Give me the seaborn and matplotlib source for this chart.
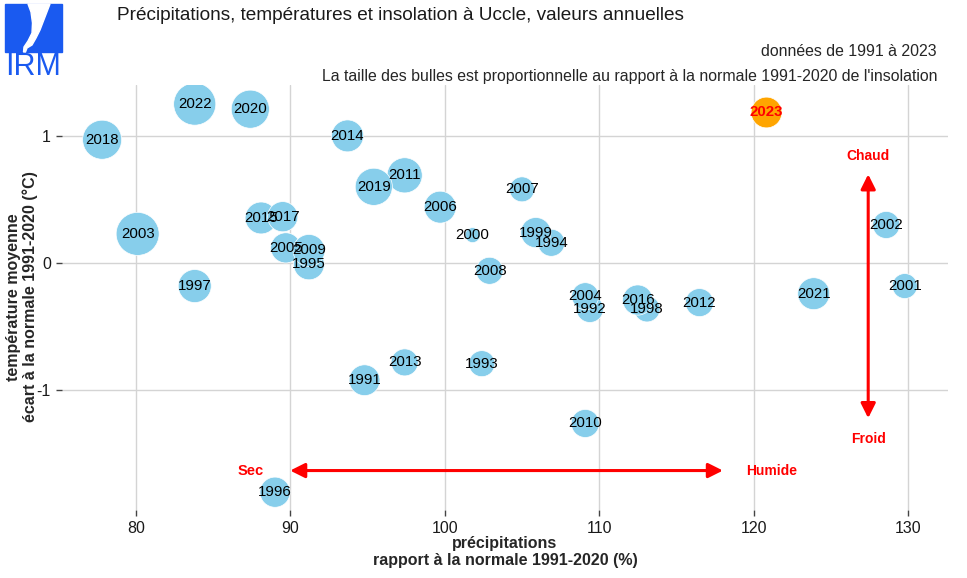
import numpy as np
import pandas as pd
import matplotlib
matplotlib.use('Agg')
import matplotlib.pyplot as plt
import seaborn as sns
from matplotlib.patches import Rectangle, Polygon

# Annual values for Uccle
years = [1991, 1992, 1993, 1994, 1995, 1996, 1997, 1998, 1999, 2000,
         2001, 2002, 2003, 2004, 2005, 2006, 2007, 2008, 2009, 2010,
         2011, 2012, 2013, 2014, 2015, 2016, 2017, 2018, 2019, 2020,
         2021, 2022, 2023]
precip = [94.8, 109.4, 102.4, 106.9, 91.2, 89.0, 83.8, 113.1, 105.9, 101.8,
          129.8, 128.6, 80.1, 109.1, 89.7, 99.7, 105.0, 102.9, 91.2, 109.1,
          97.4, 116.5, 97.4, 93.7, 88.1, 112.5, 89.5, 77.8, 95.4, 87.4,
          123.9, 83.8, 120.8]
temp_anom = [-0.92, -0.36, -0.79, 0.16, -0.01, -1.80, -0.18, -0.36, 0.24, 0.22,
             -0.18, 0.30, 0.23, -0.26, 0.12, 0.44, 0.58, -0.06, 0.10, -1.26,
             0.69, -0.31, -0.78, 1.00, 0.355, -0.29, 0.365, 0.97, 0.60, 1.21,
             -0.24, 1.25, 1.19]
insol = [100, 94, 92.5, 94, 100, 99, 104, 92.5, 99, 80,
         91, 94, 125, 94, 99, 102, 91, 94, 102, 95.5,
         108, 95.5, 94, 102, 102, 99, 99, 116, 112, 114,
         102, 123, 100]

x_ticks = [80, 90, 100, 110, 120, 130]
y_ticks = [-1, 0, 1]

df = pd.DataFrame({'annee': years, 'precip': precip, 'temp': temp_anom, 'insol': insol})
past = df[df['annee'] < 2023]
last = df[df['annee'] == 2023]

sns.set_theme(style='whitegrid')
plt.rcParams['font.family'] = ['Liberation Sans', 'DejaVu Sans']

fig = plt.figure(figsize=(9.67, 5.78), dpi=100)
ax = fig.add_axes([62 / 967, 1 - 510 / 578, (948 - 62) / 967, (510 - 85) / 578])

size_range = (117, 958)
size_norm = (df['insol'].min(), df['insol'].max())
sns.scatterplot(data=past, x='precip', y='temp', size='insol', sizes=size_range,
                size_norm=size_norm, color='#87CEEB', edgecolor='white',
                linewidth=0.5, alpha=1, legend=False, ax=ax, zorder=3)
sns.scatterplot(data=last, x='precip', y='temp', size='insol', sizes=size_range,
                size_norm=size_norm, color='#FFA500', edgecolor='white',
                linewidth=0.5, alpha=1, legend=False, ax=ax, zorder=3)

for _, r in past.iterrows():
    ax.text(r['precip'], r['temp'], str(int(r['annee'])), ha='center', va='center',
            fontsize=10.8, color='black', zorder=5)
for _, r in last.iterrows():
    ax.text(r['precip'], r['temp'], str(int(r['annee'])), ha='center', va='center',
            fontsize=10.8, color='red', fontweight='bold', zorder=5)

# direction arrows
ax.annotate('', xy=(89.8, -1.63), xytext=(118.2, -1.63),
            arrowprops=dict(arrowstyle='<|-|>', color='red', lw=2.2, mutation_scale=22), zorder=4)
ax.annotate('', xy=(127.43, 0.72), xytext=(127.43, -1.24),
            arrowprops=dict(arrowstyle='<|-|>', color='red', lw=2.2, mutation_scale=22), zorder=4)
ax.text(87.4, -1.63, 'Sec', color='red', fontweight='bold', fontsize=10.5, ha='center', va='center')
ax.text(121.2, -1.63, 'Humide', color='red', fontweight='bold', fontsize=10, ha='center', va='center')
ax.text(127.43, 0.845, 'Chaud', color='red', fontweight='bold', fontsize=10, ha='center', va='center')
ax.text(127.43, -1.385, 'Froid', color='red', fontweight='bold', fontsize=10, ha='center', va='center')

ax.set_xlim(75.2, 132.6)
ax.set_ylim(-1.94, 1.40)
ax.set_xticks(x_ticks)
ax.set_yticks(y_ticks)
ax.set_xticklabels([str(v) for v in x_ticks])
ax.set_yticklabels([str(v) for v in y_ticks])
ax.set_xlabel('')
ax.set_ylabel('')
ax.grid(True, color='#d4d4d4', linewidth=1)
for s in ax.spines.values():
    s.set_visible(False)
ax.tick_params(axis='both', which='both', length=4, width=1, color='#444444',
               labelsize=11.5, labelcolor='#1a1a1a', pad=4)
ax.tick_params(axis='x', bottom=True)
ax.tick_params(axis='y', left=True)
ax.set_facecolor('white')

# titles and axis labels
fig.text(117 / 967, 1 - 15 / 578, 'Précipitations, températures et insolation à Uccle, valeurs annuelles',
         fontsize=13.7, ha='left', va='center', color='#1a1a1a')
fig.text(937 / 967, 1 - 52 / 578, 'données de 1991 à 2023', fontsize=11.4, ha='right', va='center')
fig.text(937 / 967, 1 - 76 / 578,
         "La taille des bulles est proportionnelle au rapport à la normale 1991-2020 de l'insolation",
         fontsize=11.4, ha='right', va='center')
fig.text(505 / 967, 1 - 552 / 578, 'précipitations\nrapport à la normale 1991-2020 (%)',
         fontsize=11.5, fontweight='bold', ha='center', va='center', multialignment='center',
         linespacing=1.2)
fig.text(22 / 967, 1 - 297 / 578, 'température moyenne\nécart à la normale 1991-2020 (°C)',
         fontsize=11.5, fontweight='bold', ha='center', va='center', rotation=90,
         multialignment='center', linespacing=1.15)

# IRM logo
blue = '#1a5af0'
lax = fig.add_axes([0, 1 - 80 / 578, 70 / 967, 80 / 578])
lax.set_xlim(0, 70)
lax.set_ylim(80, 0)
lax.axis('off')
lax.add_patch(Rectangle((5, 4), 57, 48, color=blue))
lax.add_patch(Polygon([(28, 4), (31, 12), (32.5, 23), (32, 33), (28, 41), (24, 47), (23.5, 52),
                       (25.5, 52), (27, 48), (32, 45), (36, 38), (40, 30), (45, 17), (50, 4)],
                      closed=True, color='white'))
fig.text(33 / 967, 1 - 67 / 578, 'IRM', fontsize=22, color=blue, ha='center', va='center')

fig.savefig('out.png', dpi=100, facecolor='white')
